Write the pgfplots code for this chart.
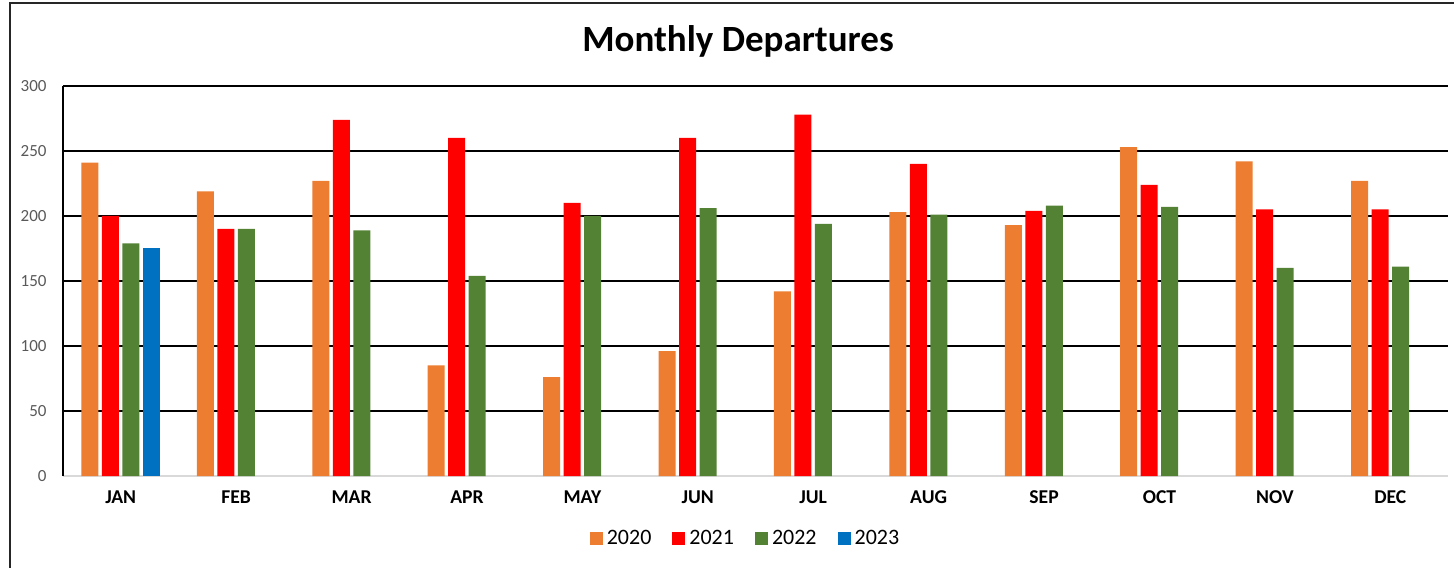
\documentclass[border=0pt]{standalone}
\usepackage{pgfplots}
\pgfplotsset{compat=1.18}
\usepackage{fontspec}
\setmainfont{Carlito}
\definecolor{c20}{HTML}{ED7D31}
\definecolor{c21}{HTML}{FF0000}
\definecolor{c22}{HTML}{548235}
\definecolor{c23}{HTML}{0070C0}
\definecolor{tickgray}{HTML}{595959}
\begin{document}
\begin{tikzpicture}
\path[use as bounding box] (-31.5pt,-45.5pt) rectangle (695.5pt,238pt);
\draw[line width=0.8pt, black!85] (-26.5pt,-46pt) -- (-26.5pt,236.5pt) -- (696pt,236.5pt);
\begin{axis}[
  at={(0pt,0pt)}, anchor=south west,
  scale only axis, width=692.5pt, height=195pt,
  ybar=1.75pt, bar width=8.5pt,
  xmin=-0.5, xmax=11.5, ymin=0, ymax=300,
  xtick={0,...,11},
  xticklabels={JAN,FEB,MAR,APR,MAY,JUN,JUL,AUG,SEP,OCT,NOV,DEC},
  ytick={0,50,...,300},
  major tick length=0pt,
  axis x line*=bottom, axis y line*=left,
  x axis line style={draw=black!15, line width=0.8pt},
  y axis line style={draw=black, line width=0.6pt},
  ymajorgrids, major grid style={black, line width=0.6pt},
  /pgf/number format/assume math mode=true,
  yticklabel style={font=\fontsize{8.5}{10}\selectfont, text=tickgray, inner sep=0pt, anchor=east, xshift=-8pt},
  xticklabel style={font=\fontsize{9.8}{11}\selectfont\bfseries, inner sep=0pt, anchor=base, yshift=-13.5pt},
  every axis title shift=0pt,
  title={Monthly Departures},
  title style={font=\fontsize{18.5}{21}\selectfont\bfseries, at={(axis description cs:0.4874,1.0897)}, anchor=base, inner sep=0pt},
  legend columns=4,
  legend style={draw=none, fill=none, at={(axis description cs:0.4935,-0.1615)}, anchor=center,
    font=\fontsize{11}{13}\selectfont, /tikz/every even column/.append style={column sep=8.5pt}},
  legend image code/.code={\fill[#1] (0pt,-3.25pt) rectangle (6.5pt,3.25pt);},
  every axis plot/.append style={draw=none},
]
\addplot[fill=c20] coordinates {(0,241) (1,219) (2,227) (3,85) (4,76) (5,96) (6,142) (7,203) (8,193) (9,253) (10,242) (11,227)};
\addplot[fill=c21] coordinates {(0,200) (1,190) (2,274) (3,260) (4,210) (5,260) (6,278) (7,240) (8,204) (9,224) (10,205) (11,205)};
\addplot[fill=c22] coordinates {(0,179) (1,190) (2,189) (3,154) (4,200) (5,206) (6,194) (7,201) (8,208) (9,207) (10,160) (11,161)};
\addplot[fill=c23] coordinates {(0,175)};
\legend{2020,2021,2022,2023}
\end{axis}
\end{tikzpicture}
\end{document}
